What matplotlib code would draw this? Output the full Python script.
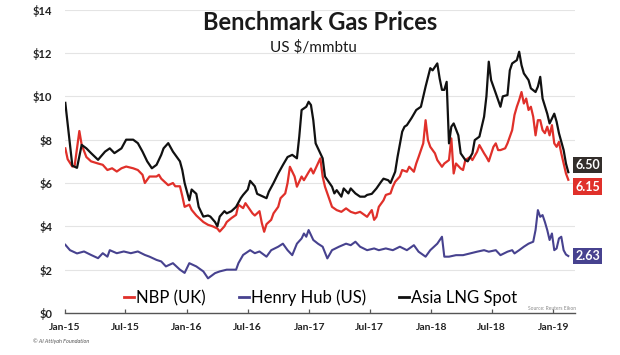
import numpy as np
import pandas as pd
import matplotlib.pyplot as plt

plt.rcParams['font.family'] = ['Lato', 'DejaVu Sans']

# weekly observations, week 0 = 2 Jan 2015 (US $/mmbtu)
lng_week = [0, 3, 5, 7, 9, 11, 14, 15, 17, 19, 21, 24, 26, 29, 31, 33, 35, 37, 39, 41,
            42, 44, 46, 47, 49, 50, 51, 53, 54, 56, 57, 59, 61, 62, 64, 65, 66, 68, 69, 71,
            73, 75, 76, 78, 79, 81, 82, 84, 86, 87, 89, 91, 93, 95, 97, 99, 100, 101, 103, 104,
            105, 106, 107, 109, 110, 111, 114, 115, 116, 118, 119, 121, 122, 124, 126, 128, 129, 131, 133, 135,
            136, 138, 139, 141, 142, 144, 145, 146, 148, 150, 152, 154, 156, 157, 159, 160, 161, 162, 163, 164,
            165, 166, 168, 169, 171, 172, 174, 175, 177, 179, 180, 181, 182, 183, 184, 186, 187, 189, 190, 191,
            193, 194, 195, 196, 198, 199, 201, 202, 203, 204, 206, 207, 209, 210, 211, 213, 214, 215]
lng_price = [9.7, 6.8, 6.7, 7.76, 7.6, 7.38, 7.07, 7.2, 7.45, 7.6, 7.38, 7.6, 8.0, 8.0, 7.84, 7.45, 7.0, 6.68, 6.84, 7.3,
             7.6, 7.84, 7.45, 7.3, 7.0, 6.6, 6.0, 5.2, 5.7, 5.5, 4.9, 4.45, 4.5, 4.45, 4.2, 4.0, 4.45, 4.7, 4.6, 4.7,
             4.9, 5.3, 5.45, 5.7, 6.1, 5.85, 5.5, 5.4, 5.3, 5.6, 6.0, 6.44, 6.83, 7.2, 7.3, 7.14, 8.14, 9.37, 9.52, 9.75,
             9.6, 8.9, 7.83, 7.37, 7.14, 6.3, 5.83, 5.52, 5.67, 5.37, 5.75, 5.52, 5.75, 5.52, 5.37, 5.37, 5.45, 5.5, 5.75, 6.06,
             6.2, 6.13, 6.0, 6.52, 7.2, 8.37, 8.6, 8.67, 9.0, 9.37, 9.52, 10.45, 11.3, 11.2, 11.52, 10.83, 10.3, 10.3, 10.67, 7.83,
             8.6, 8.75, 8.2, 7.37, 7.06, 7.0, 7.37, 7.98, 8.14, 9.06, 10.0, 11.6, 10.75, 10.45, 10.14, 9.52, 10.0, 10.06, 11.2, 11.52,
             11.67, 12.06, 11.44, 11.06, 10.75, 10.37, 10.2, 10.45, 10.9, 9.9, 9.2, 8.75, 9.2, 8.83, 8.3, 7.52, 6.9, 6.5]

nbp_week = [0, 1, 3, 4, 6, 7, 9, 11, 14, 16, 18, 20, 22, 24, 26, 29, 31, 33, 34, 36,
            39, 40, 41, 44, 46, 47, 49, 50, 51, 53, 54, 56, 59, 61, 63, 65, 66, 68, 69, 71,
            73, 74, 76, 77, 79, 80, 81, 83, 84, 85, 86, 88, 89, 91, 92, 94, 95, 96, 98, 99,
            101, 102, 104, 105, 106, 108, 109, 110, 111, 113, 114, 116, 118, 120, 122, 124, 126, 129, 130, 131,
            132, 133, 134, 136, 137, 139, 140, 141, 143, 144, 146, 147, 149, 150, 151, 153, 154, 155, 156, 158,
            159, 161, 162, 164, 165, 166, 167, 169, 170, 171, 173, 174, 176, 177, 179, 180, 181, 183, 184, 185,
            186, 188, 189, 191, 192, 193, 194, 195, 196, 197, 198, 199, 200, 201, 202, 203, 204, 205, 206, 207,
            208, 209, 210, 211, 212, 213, 214, 215]
nbp_price = [7.6, 7.1, 6.76, 6.8, 8.4, 7.76, 7.2, 7.0, 6.9, 6.84, 6.6, 6.68, 6.53, 6.68, 6.76, 6.68, 6.6, 6.38, 6.0, 6.3,
             6.3, 6.38, 6.2, 5.9, 6.0, 5.85, 5.85, 5.4, 4.9, 5.0, 4.76, 4.5, 4.2, 4.07, 4.0, 3.9, 3.76, 4.0, 4.2, 4.38,
             4.53, 5.0, 4.84, 5.07, 4.76, 4.6, 4.5, 4.7, 4.15, 3.75, 4.1, 4.3, 4.6, 4.9, 5.3, 5.52, 6.0, 6.75, 6.3, 5.83,
             6.3, 6.13, 6.5, 6.67, 6.44, 6.9, 7.14, 6.3, 5.83, 5.2, 4.9, 4.75, 4.67, 4.83, 4.67, 4.6, 4.67, 4.44, 4.6, 4.75,
             4.3, 4.44, 4.9, 5.2, 5.45, 5.52, 5.83, 6.06, 6.3, 6.6, 6.52, 6.75, 6.52, 6.9, 7.2, 7.83, 8.9, 7.98, 7.67, 7.37,
             7.06, 6.75, 6.9, 7.06, 8.06, 6.44, 6.9, 6.67, 6.6, 7.06, 7.2, 7.06, 7.44, 7.75, 7.37, 7.2, 7.0, 7.67, 7.83, 7.52,
             7.52, 7.6, 7.83, 8.44, 9.14, 9.52, 9.83, 10.2, 9.67, 9.9, 9.37, 9.52, 9.06, 8.2, 8.9, 8.9, 8.44, 8.3, 8.6, 8.2,
             8.67, 7.83, 7.67, 7.9, 7.37, 6.9, 6.44, 6.15]

hh_week = [0, 2, 5, 8, 11, 14, 16, 18, 19, 22, 25, 28, 31, 34, 36, 39, 41, 43, 46, 49,
           51, 53, 56, 59, 61, 64, 66, 69, 73, 74, 76, 79, 81, 83, 85, 86, 88, 91, 93, 95,
           97, 99, 101, 102, 103, 104, 106, 108, 110, 112, 114, 117, 120, 122, 124, 126, 129, 132, 134, 137,
           140, 143, 146, 149, 151, 154, 156, 159, 161, 162, 164, 167, 170, 173, 176, 179, 181, 184, 186, 189,
           191, 192, 194, 196, 198, 200, 201, 202, 203, 204, 205, 206, 207, 208, 209, 210, 211, 212, 213, 214,
           215]
hh_price = [3.15, 2.9, 2.75, 2.84, 2.68, 2.53, 2.76, 2.6, 2.9, 2.76, 2.84, 2.76, 2.84, 2.68, 2.6, 2.45, 2.38, 2.15, 2.3, 2.0,
            1.85, 2.3, 2.15, 1.92, 1.6, 1.84, 1.92, 2.0, 2.0, 2.3, 2.68, 2.9, 2.76, 2.84, 2.68, 2.6, 2.9, 3.06, 3.2, 2.9,
            2.67, 3.2, 3.44, 3.67, 3.52, 3.83, 3.37, 3.2, 3.06, 2.52, 2.9, 3.06, 3.2, 3.13, 3.29, 3.06, 2.9, 2.98, 2.9, 2.98,
            2.9, 3.06, 2.9, 3.13, 2.83, 2.6, 2.9, 3.2, 3.52, 2.6, 2.6, 2.67, 2.67, 2.75, 2.83, 2.9, 2.83, 2.9, 2.67, 2.83,
            2.9, 2.75, 2.9, 3.06, 3.2, 3.29, 3.83, 4.75, 4.44, 4.52, 4.2, 3.83, 3.37, 3.67, 2.9, 2.98, 3.44, 3.52, 2.9, 2.7,
            2.63]

yticks = [0, 2, 4, 6, 8, 10, 12, 14]
xticks = ['2015-01-01', '2015-07-01', '2016-01-01', '2016-07-01', '2017-01-01',
          '2017-07-01', '2018-01-01', '2018-07-01', '2019-01-01']

start = pd.Timestamp('2015-01-02')
def to_dates(weeks):
    return start + pd.to_timedelta(np.array(weeks) * 7, unit='D')

RED = '#E0302A'
BLUE = '#47428F'
BLACK = '#111111'

fig = plt.figure(figsize=(6.2, 3.55), dpi=100)
ax = fig.add_axes([0.1048, 0.1183, 0.8226, 0.8544])

ax.plot(to_dates(hh_week), hh_price, color=BLUE, lw=1.5, label='Henry Hub (US)', zorder=3)
ax.plot(to_dates(nbp_week), nbp_price, color=RED, lw=1.6, label='NBP (UK)', zorder=4)
ax.plot(to_dates(lng_week), lng_price, color=BLACK, lw=1.6, label='Asia LNG Spot', zorder=5)

ax.set_ylim(0, 14)
ax.set_xlim(pd.Timestamp('2015-01-01'), pd.Timestamp('2019-03-07'))
ax.set_yticks(yticks)
ax.set_yticklabels(['$%d' % v for v in yticks])
ax.set_xticks(pd.to_datetime(xticks))
ax.set_xticklabels(pd.to_datetime(xticks).strftime('%b-%y'))

for s in ['top', 'right', 'left']:
    ax.spines[s].set_visible(False)
ax.spines['bottom'].set_color('#555555')
ax.spines['bottom'].set_linewidth(1.0)
ax.grid(axis='y', color='#e4e4e4', lw=0.8)
ax.set_axisbelow(True)
ax.tick_params(axis='x', direction='in', length=3, width=0.9, color='#555555',
               labelsize=7.5, pad=7)
ax.tick_params(axis='y', length=0, labelsize=8, pad=9)
for lab in ax.get_xticklabels() + ax.get_yticklabels():
    lab.set_fontweight('bold')
    lab.set_color('#222222')

# end-of-series value boxes
ends = [(lng_week, lng_price, '#332E2B', 5), (nbp_week, nbp_price, RED, -5), (hh_week, hh_price, BLUE, 0)]
for wk, pr, col, dy in ends:
    ax.annotate('%.2f' % pr[-1], xy=(to_dates(wk)[-1], pr[-1]), xytext=(5, dy),
                textcoords='offset points', ha='left', va='center', color='white',
                fontsize=9, fontweight='bold',
                bbox=dict(boxstyle='square,pad=0.18', fc=col, ec='none'), annotation_clip=False)

h, l = ax.get_legend_handles_labels()
order = [1, 0, 2]
leg = fig.legend([h[i] for i in order], [l[i] for i in order], loc='center',
                 bbox_to_anchor=(0.517, 0.1606), ncol=3, frameon=False, fontsize=12,
                 handlelength=0.6, handletextpad=0.1, columnspacing=2.0)
for line in leg.get_lines():
    line.set_linewidth(2)

fig.text(0.516, 0.938, 'Benchmark Gas Prices', ha='center', va='center',
         fontsize=17, fontweight='bold', color='#1a1a1a')
fig.text(0.505, 0.868, 'US $/mmbtu', ha='center', va='center', fontsize=11, color='#1a1a1a')
fig.text(576 / 620, 1 - 308 / 355, 'Source: Reuters Eikon', ha='right', va='center',
         fontsize=3.5, color='#888888')
fig.text(33 / 620, 1 - 341 / 355, '© Al Attiyah Foundation', ha='left', va='center',
         fontsize=4, style='italic', color='#555555')

fig.savefig('out.png', dpi=100, facecolor='white')
